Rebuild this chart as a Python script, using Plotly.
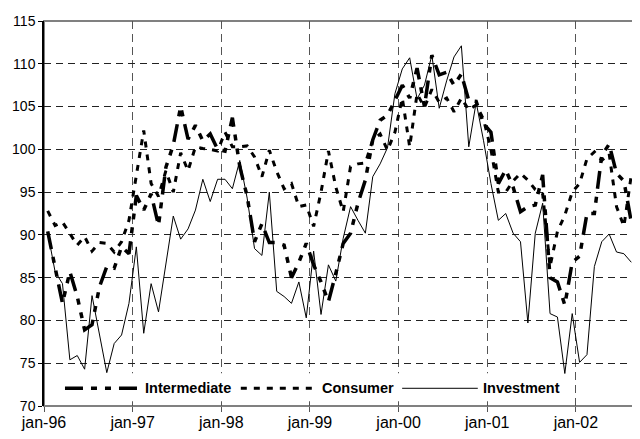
import plotly.graph_objects as go

# Monthly index series, jan-96 .. aug-02
intermediate = [90.4, 86.0, 82.0, 85.7, 82.8, 78.9, 79.5, 83.9, 86.3, 86.1, 88.6, 87.8,
                94.6, 92.9, 94.8, 91.1, 97.9, 100.5, 105.0, 101.2, 102.8, 101.0, 101.8, 100.0,
                99.8, 103.7, 98.0, 94.5, 89.2, 91.3, 89.1, 89.1, 88.8, 85.0, 86.8, 89.0,
                86.5, 84.5, 82.2, 85.5, 89.0, 90.2, 93.7, 96.4, 101.1, 103.4, 104.0, 105.7,
                107.5, 106.0, 109.5, 105.0, 111.0, 108.7, 109.0, 107.5, 108.8, 105.7, 105.6, 103.0,
                102.0, 96.0, 97.6, 95.6, 92.7, 93.3, 93.5, 97.0, 85.0, 84.5, 81.8, 86.8,
                87.5, 92.5, 92.5, 99.3, 100.6, 97.2, 96.3, 91.5]
consumer = [92.8, 91.1, 91.5, 90.1, 88.8, 89.8, 88.1, 89.1, 89.0, 88.0, 89.2, 91.7,
            97.2, 102.2, 96.0, 94.5, 97.5, 95.0, 99.6, 97.5, 100.3, 100.1, 100.0, 99.8,
            102.0, 100.3, 100.3, 100.4, 99.1, 96.8, 99.9, 97.4, 95.4, 96.0, 93.3, 93.5,
            91.0, 95.0, 99.8, 95.6, 92.7, 98.0, 98.3, 98.4, 101.1, 101.8, 99.9, 102.0,
            106.0, 100.3, 106.5, 104.9, 107.0, 105.5, 106.0, 104.4, 106.0, 104.6, 105.2, 103.5,
            100.0, 95.0, 95.0, 96.3, 97.2, 96.4, 95.3, 94.8, 86.3, 90.4, 92.3, 95.0,
            96.0, 98.9, 99.7, 98.7, 99.5, 93.3, 91.0, 97.0]
investment = [90.3, 85.7, 84.3, 75.4, 75.9, 74.3, 82.9, 78.5, 73.9, 77.3, 78.3, 82.0,
              88.6, 78.5, 84.3, 81.0, 86.7, 92.2, 89.5, 90.7, 92.9, 96.5, 93.9, 96.5,
              96.5, 95.4, 98.7, 94.3, 88.4, 87.6, 95.0, 83.4, 82.8, 82.0, 84.5, 80.3,
              88.1, 80.7, 86.5, 84.6, 89.6, 93.3, 91.7, 90.2, 96.8, 98.3, 100.2, 106.5,
              109.4, 110.7, 105.9, 107.5, 111.0, 104.8, 108.0, 110.8, 112.1, 100.3, 105.5, 101.0,
              96.0, 91.7, 92.5, 90.2, 89.2, 79.7, 90.2, 93.7, 80.8, 80.4, 73.8, 80.8,
              75.1, 76.0, 86.3, 89.2, 90.1, 88.0, 87.8, 86.8]
year_labels = ["jan-96", "jan-97", "jan-98", "jan-99", "jan-00", "jan-01", "jan-02"]
series_names = ["Intermediate", "Consumer", "Investment"]

n = len(intermediate)
x = list(range(n))
tickvals = [12 * i - 0.5 for i in range(len(year_labels))]

styles = [
    dict(width=3.5, dash="18px,8px,6px,8px,6px,8px"),
    dict(width=3, dash="6px,7px"),
    dict(width=1, dash="solid"),
]

fig = go.Figure()
for name, ys, st in zip(series_names, [intermediate, consumer, investment], styles):
    fig.add_trace(go.Scatter(x=x, y=ys, mode="lines", name=name,
                             line=dict(color="black", width=st["width"], dash=st["dash"])))

FONT = "Liberation Sans, Arial, sans-serif"

# the page body has an 8px default margin, so the figure is sized to fit inside it
fig.update_layout(
    width=632, height=431,
    margin=dict(l=36, r=5, t=13, b=33),
    paper_bgcolor="white", plot_bgcolor="white",
    showlegend=False,
    font=dict(family=FONT, color="black"),
    xaxis=dict(range=[-0.5, n - 0.5], tickmode="array", tickvals=tickvals, ticktext=year_labels,
               showgrid=True, gridcolor="#555555", gridwidth=1.3, griddash="8px,5px",
               ticks="outside", ticklen=5, tickcolor="#555555", tickfont=dict(size=16, family=FONT),
               ticklabelstandoff=-3,
               showline=False, zeroline=False, automargin=False),
    yaxis=dict(range=[70, 115], dtick=5, tick0=70, showgrid=True, gridcolor="#222222", gridwidth=1,
               griddash="7px,5px", ticks="outside", ticklen=4, tickcolor="black",
               tickfont=dict(size=14, family=FONT), showline=True, linecolor="black", linewidth=1.5,
               zeroline=False, automargin=False),
)

# plot-area frame (gray top/right/bottom)
fig.add_shape(type="rect", xref="paper", yref="paper", x0=0, x1=1, y0=0, y1=1,
              line=dict(color="#808080", width=2), layer="below")

# custom legend inside plot area
fig.add_shape(type="rect", xref="paper", yref="paper", x0=0.0135, x1=0.8765, y0=0.0125, y1=0.085,
              fillcolor="white", line=dict(width=0), layer="above")
leg_y = 0.046
samples = [(0.0355, 0.164, 0.1675), (0.333, 0.462, 0.467), (0.606, 0.734, 0.7394)]
for (a, b, t), name, st in zip(samples, series_names, styles):
    fig.add_shape(type="line", xref="paper", yref="paper", x0=a, x1=b, y0=leg_y, y1=leg_y,
                  line=dict(color="black", width=st["width"], dash=st["dash"]), layer="above")
    fig.add_annotation(xref="paper", yref="paper", x=t, y=leg_y, text="<b>%s</b>" % name,
                       showarrow=False, xanchor="left", yanchor="middle",
                       font=dict(size=14.5, family=FONT, color="black"))

fig.write_html("out.html")
